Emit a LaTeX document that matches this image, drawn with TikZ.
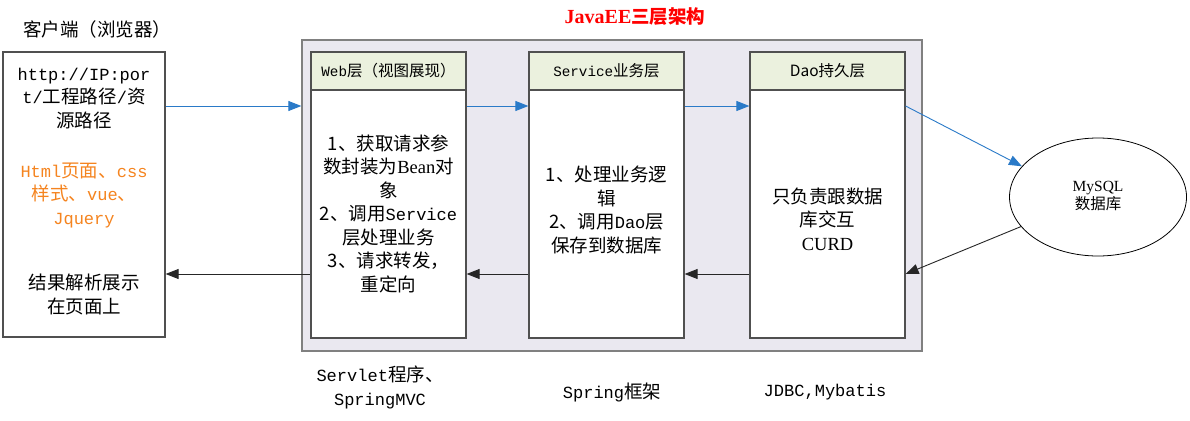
\documentclass[tikz,border=0pt]{standalone}
\usepackage{fontspec}
\setmainfont{Noto Sans CJK SC}
\newfontfamily\mono[Scale=0.92]{Liberation Mono}
\newfontfamily\ser{Liberation Serif}
\usetikzlibrary{arrows.meta,shapes.geometric}
\definecolor{bluearr}{HTML}{2A7AC8}
\definecolor{orangetxt}{HTML}{F5841F}
\definecolor{contfill}{HTML}{EAE8F0}
\definecolor{hdrfill}{HTML}{EBF1DE}
\definecolor{boxline}{HTML}{505050}
\tikzset{
  maintxt/.style={font=\fontsize{18.5}{23.5}\selectfont, align=center, inner sep=0pt},
  hdrtxt/.style={font=\fontsize{15.5}{18}\selectfont, align=center, inner sep=0pt},
  bodybox/.style={draw=boxline, line width=1.2pt, fill=white, minimum width=155pt, minimum height=286pt, inner sep=0pt},
  hdrbox/.style={draw=boxline, line width=1.2pt, fill=hdrfill, minimum width=155pt, minimum height=38pt, inner sep=0pt},
  barr/.style={draw=bluearr, line width=0.9pt, -{Triangle[length=13pt,width=10pt]}},
  karr/.style={draw=black!85, line width=0.9pt, -{Triangle[length=13pt,width=10pt]}}
}
\begin{document}
\begin{tikzpicture}[x=1pt,y=-1pt]
\useasboundingbox (0,0) rectangle (1190,420);
\fill[white] (0,0) rectangle (1190,420);
\coordinate (rt) at (0,106);
\coordinate (rb) at (0,274);
% title
\node[maintxt, text=red, font=\fontsize{18.5}{22}\selectfont\bfseries] (title) at (635,17) {{\ser\fontsize{20}{22}\selectfont JavaEE}三层架构};
\node[maintxt] (clientt) at (97,29) {客户端（浏览器）};
% client box
\node[draw=boxline, line width=1.2pt, minimum width=162pt, minimum height=285pt, inner sep=0pt] (client) at (84,194.5) {};
\node[maintxt] (url) at (84,98.5) {{\mono http://IP:por}\\{\mono t/}工程路径{\mono /}资\\源路径};
\node[maintxt, text=orangetxt] (tech) at (84,195.5) {{\mono Html}页面、{\mono css}\\样式、{\mono vue}、\\{\mono Jquery}};
\node[maintxt] (res) at (84,294.5) {结果解析展示\\在页面上};
% container
\node[draw=black!50, line width=1.3pt, fill=contfill, minimum width=620pt, minimum height=311pt, inner sep=0pt] (layer) at (612,195.5) {};
% web
\node[bodybox] (web) at (388.5,195) {};
\node[hdrbox] (webh) at (388.5,71) {};
\node[hdrtxt] (webht) at (webh) {{\mono Web}层（视图展现）};
\node[maintxt] (webt) at (388.5,213.5) {1、获取请求参\\数封装为{\ser Bean}对\\象\\2、调用{\mono Service}\\层处理业务\\3、请求转发，\\重定向};
% service
\node[bodybox] (svc) at (606.5,195) {};
\node[hdrbox] (svch) at (606.5,71) {};
\node[hdrtxt] (svcht) at (svch) {{\mono Service}业务层};
\node[maintxt] (svct) at (606.5,210) {1、处理业务逻\\辑\\2、调用{\mono Dao}层\\保存到数据库};
% dao
\node[bodybox] (dao) at (827.5,195) {};
\node[hdrbox] (daoh) at (827.5,71) {};
\node[hdrtxt] (daoht) at (daoh) {Dao持久层};
\node[maintxt] (daot) at (827.5,219) {只负责跟数据\\库交互\\{\ser CURD}};
% database
\node[draw=black, line width=0.8pt, ellipse, minimum width=177pt, minimum height=118pt, inner sep=0pt] (db) at (1098,197) {};
\node[hdrtxt] (dbt) at (1098,196) {{\ser MySQL}\\数据库};
% bottom labels
\node[maintxt] (lweb) at (380,387.5) {{\mono Servlet}程序、\\{\mono SpringMVC}};
\node[maintxt] (lsvc) at (612,392) {{\mono Spring}框架};
\node[maintxt] (ldao) at (825,392) {{\mono JDBC,Mybatis}};
% arrows
\draw[barr] (client.east |- rt) -- (layer.west |- rt);
\draw[barr] (web.east |- rt) -- (svc.west |- rt);
\draw[barr] (svc.east |- rt) -- (dao.west |- rt);
\draw[barr] (dao.east |- rt) -- (db.158.5);
\draw[karr] (db.201.5) -- (dao.east |- rb);
\draw[karr] (dao.west |- rb) -- (svc.east |- rb);
\draw[karr] (svc.west |- rb) -- (web.east |- rb);
\draw[karr] (web.west |- rb) -- (client.east |- rb);
\end{tikzpicture}
\end{document}
